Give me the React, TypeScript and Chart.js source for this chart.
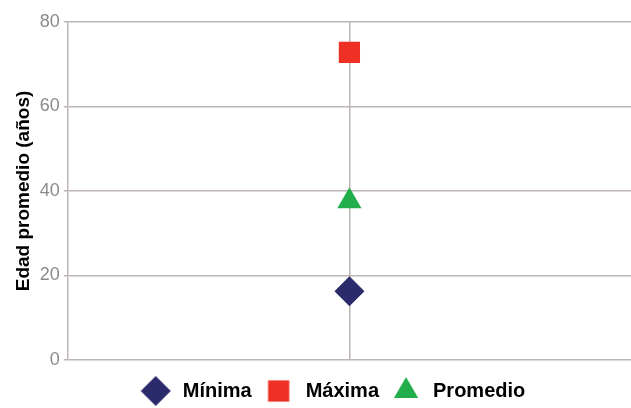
import React, { useEffect, useRef } from "react";
import { Chart, registerables } from "chart.js";
import { drawPoint } from "chart.js/helpers";

Chart.register(...registerables);

const seriesNames = ["Mínima", "Máxima", "Promedio"];
const seriesValues = [16.3, 72.8, 37.6];
const seriesColors = ["#2B2A6B", "#EE3124", "#22AE4B"];
const seriesStyles = ["rectRot", "rect", "triangle"];
const seriesRadius = [15, 15, 14];
const yTicks = [0, 20, 40, 60, 80];
const yTitle = "Edad promedio (años)";

function symbolCanvas(style: string, color: string, radius: number) {
  const c = document.createElement("canvas");
  c.width = 32;
  c.height = 32;
  const g = c.getContext("2d")!;
  g.fillStyle = color;
  g.strokeStyle = color;
  drawPoint(g, { pointStyle: style as any, radius, rotation: 0, borderWidth: 0 } as any, 16, 16);
  return c;
}

export default function App() {
  const ref = useRef<HTMLCanvasElement | null>(null);
  useEffect(() => {
    document.body.style.margin = "0";
    const ctx = ref.current!;
    const font = "'Liberation Sans', Arial, Helvetica, sans-serif";
    const legendShift = {
      id: "legendShift",
      afterLayout(chart: any) {
        const l = chart.legend;
        if (!l) return;
        l.left += 14;
        l.right += 14;
        l.top += 11;
        l.bottom += 11;
      },
    };
    const chart = new Chart(ctx, {
      type: "scatter",
      data: {
        datasets: seriesNames.map((name, i) => ({
          label: name,
          data: [{ x: 0, y: seriesValues[i] }],
          backgroundColor: seriesColors[i],
          borderColor: seriesColors[i],
          borderWidth: 0,
          pointStyle: seriesStyles[i] as any,
          pointRadius: seriesRadius[i],
        })),
      },
      options: {
        responsive: false,
        animation: false,
        layout: { autoPadding: false, padding: { top: 22, left: 5, right: 0, bottom: 8 } },
        scales: {
          x: {
            type: "linear",
            min: -1,
            max: 1,
            ticks: { display: false, stepSize: 1 },
            grid: {
              drawTicks: false,
              color: (c: any) => (c.tick && c.tick.value === 0 ? "#bdb5b5" : "rgba(0,0,0,0)"),
              lineWidth: 1.5,
            },
            border: { display: false },
          },
          y: {
            min: 0,
            max: 80,
            afterBuildTicks: (axis: any) => {
              axis.ticks = yTicks.map((v) => ({ value: v }));
            },
            ticks: {
              color: "#8a8a8a",
              font: { family: font, size: 18 },
              padding: 4,
            },
            grid: { color: "#bdb5b5", lineWidth: 1.5, tickLength: 4 },
            border: { color: "#bdb5b5", width: 1.5 },
            title: {
              display: true,
              text: yTitle,
              color: "#000",
              font: { family: font, size: 19, weight: "bold" },
              padding: { top: 7, bottom: 1 },
            },
          },
        },
        plugins: {
          tooltip: { enabled: false },
          legend: {
            position: "bottom",
            labels: {
              usePointStyle: true,
              pointStyleWidth: 34,
              color: "#000",
              font: { family: font, size: 20, weight: "bold" },
              boxHeight: 20,
              padding: 10,
              generateLabels: (chart: any) => {
                const items = Chart.defaults.plugins.legend.labels.generateLabels(chart);
                return items.map((it: any, i: number) => ({
                  ...it,
                  pointStyle: symbolCanvas(seriesStyles[i], seriesColors[i], seriesRadius[i]),
                }));
              },
            },
          },
        },
      },
      plugins: [legendShift],
    });
    return () => chart.destroy();
  }, []);
  return <canvas ref={ref} width={631} height={408} />;
}
